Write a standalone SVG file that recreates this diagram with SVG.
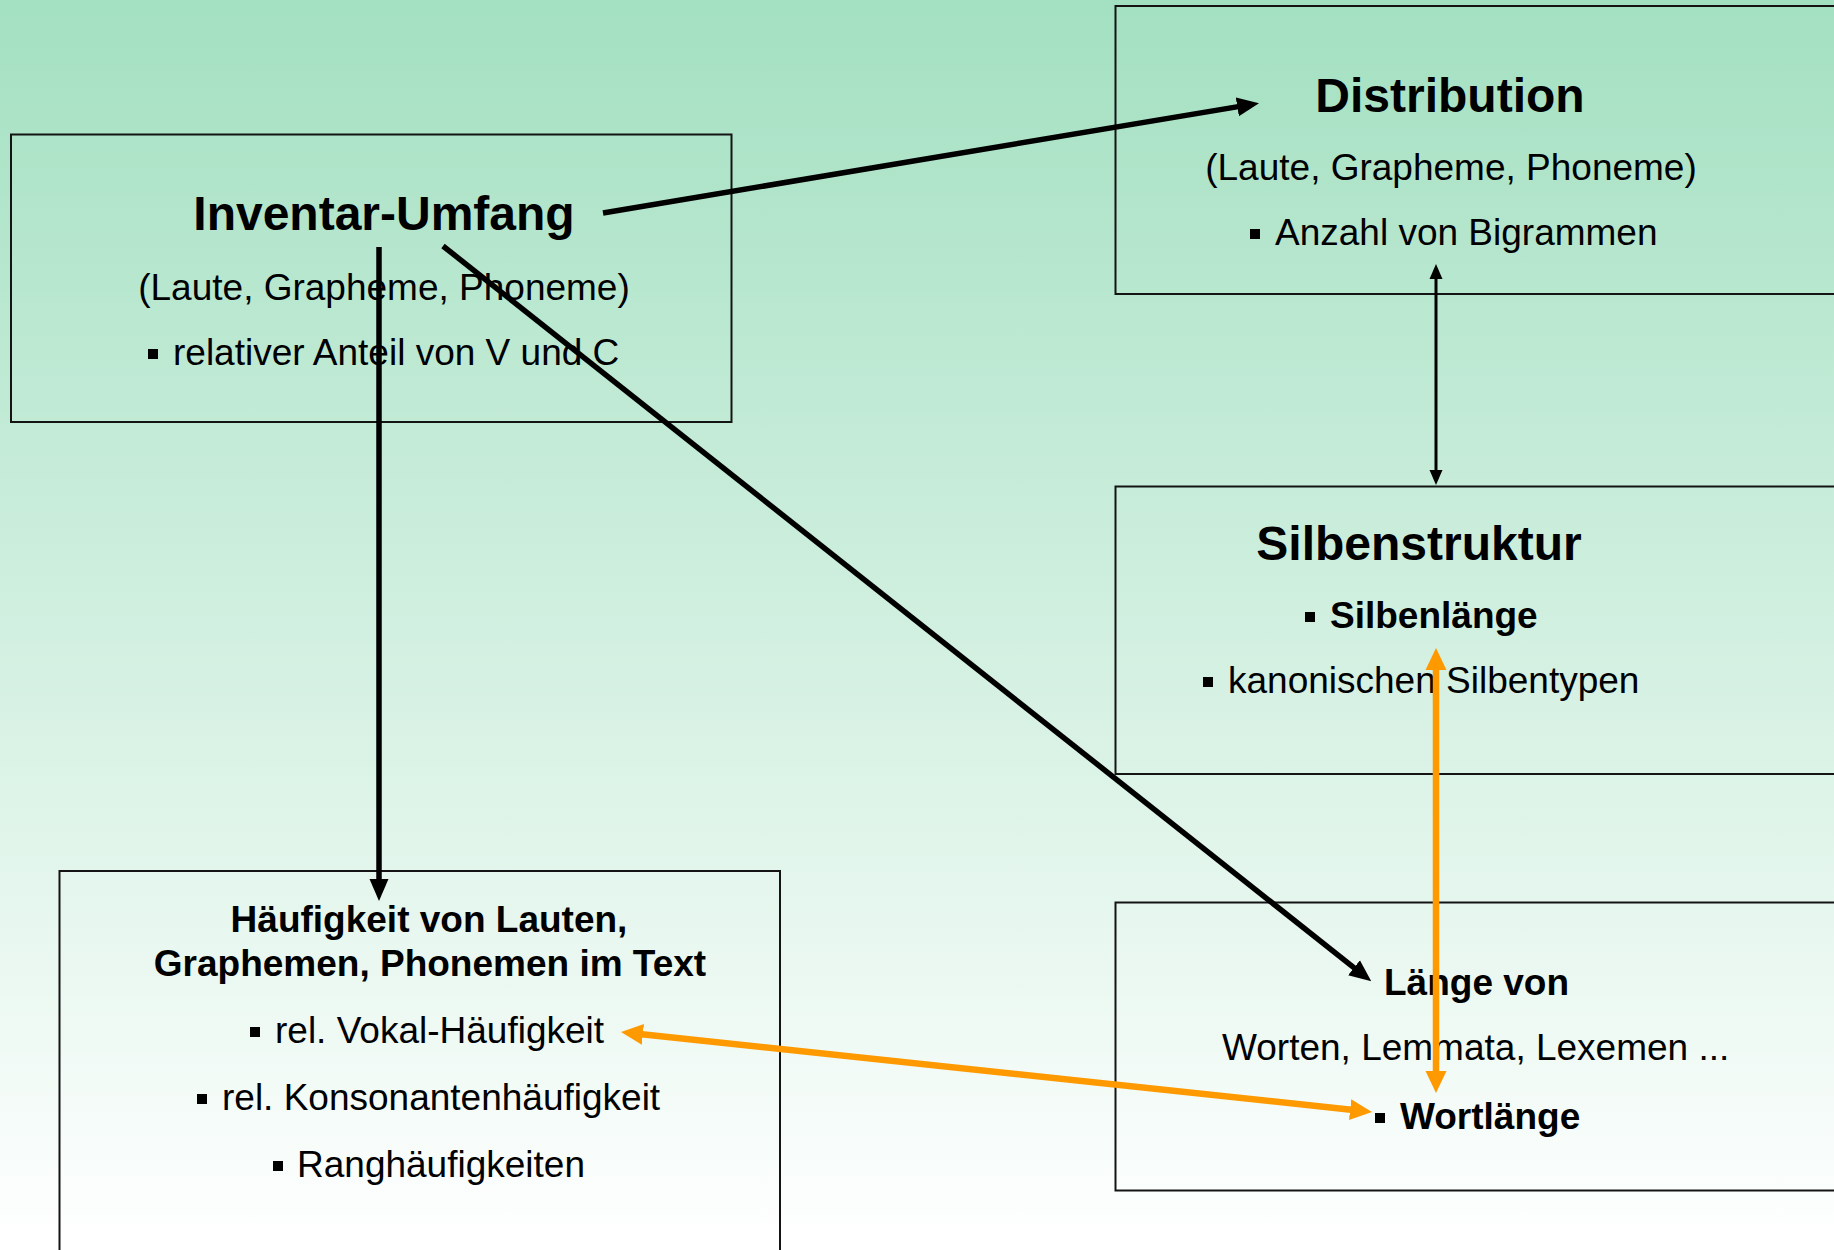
<svg xmlns="http://www.w3.org/2000/svg" width="1834" height="1250" viewBox="0 0 1834 1250">
  <defs>
    <linearGradient id="bg" x1="0" y1="0" x2="0" y2="1">
      <stop offset="0" stop-color="#a3e0c1"/>
      <stop offset="1" stop-color="#ffffff"/>
    </linearGradient>
    <marker id="ahB" markerUnits="userSpaceOnUse" viewBox="0 -10 22 20" refX="1" refY="0" markerWidth="22" markerHeight="20" orient="auto-start-reverse">
      <path d="M0,-9.5 L22,0 L0,9.5 z" fill="#000"/>
    </marker>
    <marker id="ahS" markerUnits="userSpaceOnUse" viewBox="0 -7 15 14" refX="1" refY="0" markerWidth="15" markerHeight="14" orient="auto-start-reverse">
      <path d="M0,-6.5 L15,0 L0,6.5 z" fill="#000"/>
    </marker>
    <marker id="ahO" markerUnits="userSpaceOnUse" viewBox="0 -11 22 22" refX="1" refY="0" markerWidth="22" markerHeight="22" orient="auto-start-reverse">
      <path d="M0,-10.5 L22,0 L0,10.5 z" fill="#ff9900"/>
    </marker>
  </defs>
  <style>
    .box { fill: none; stroke: #141414; stroke-width: 2; }
    text { font-family: "Liberation Sans", Arial, sans-serif; fill: #000; }
    .title { font-size: 48px; font-weight: bold; }
    .body { font-size: 37px; }
    .bold { font-size: 37px; font-weight: bold; }
    .mid { text-anchor: middle; }
    .bul { fill: #000; }
    .blk { stroke: #000; stroke-width: 5.5; fill: none; }
    .thin { stroke: #000; stroke-width: 3; fill: none; }
    .org { stroke: #ff9900; stroke-width: 6.5; fill: none; }
  </style>
  <rect x="0" y="0" width="1834" height="1250" fill="url(#bg)"/>

  <g id="node-inventar">
    <rect class="box" x="11" y="134.5" width="720.5" height="287.5"/>
    <text class="title mid" x="384" y="230">Inventar-Umfang</text>
    <text class="body mid" x="384" y="300">(Laute, Grapheme, Phoneme)</text>
    <rect class="bul" x="148" y="349" width="10" height="10"/>
    <text class="body" x="173" y="365">relativer Anteil von V und C</text>
  </g>

  <g id="node-distribution">
    <rect class="box" x="1115.5" y="6" width="720" height="288"/>
    <text class="title mid" x="1450" y="112">Distribution</text>
    <text class="body mid" x="1451" y="180">(Laute, Grapheme, Phoneme)</text>
    <rect class="bul" x="1250" y="229" width="10" height="10"/>
    <text class="body" x="1275" y="245">Anzahl von Bigrammen</text>
  </g>

  <g id="node-silbenstruktur">
    <rect class="box" x="1115.5" y="486.5" width="720" height="287.5"/>
    <text class="title mid" x="1419" y="560">Silbenstruktur</text>
    <rect class="bul" x="1305" y="612" width="10" height="10"/>
    <text class="bold" x="1330" y="628">Silbenlänge</text>
    <rect class="bul" x="1203" y="677" width="10" height="10"/>
    <text class="body" x="1228" y="693">kanonischen Silbentypen</text>
  </g>

  <g id="node-laenge">
    <rect class="box" x="1115.5" y="902.5" width="720" height="288"/>
    <text class="bold" x="1384" y="995">Länge von</text>
    <text class="body" x="1222" y="1060">Worten, Lemmata, Lexemen ...</text>
    <rect class="bul" x="1375" y="1113" width="10" height="10"/>
    <text class="bold" x="1400" y="1129">Wortlänge</text>
  </g>

  <g id="node-haeufigkeit">
    <rect class="box" x="59.5" y="871" width="720.5" height="420"/>
    <text class="bold mid" x="429" y="932">Häufigkeit von Lauten,</text>
    <text class="bold mid" x="430" y="976">Graphemen, Phonemen im Text</text>
    <rect class="bul" x="250" y="1027" width="10" height="10"/>
    <text class="body" x="275" y="1043">rel. Vokal-Häufigkeit</text>
    <rect class="bul" x="197" y="1094" width="10" height="10"/>
    <text class="body" x="222" y="1110">rel. Konsonantenhäufigkeit</text>
    <rect class="bul" x="273" y="1161" width="10" height="10"/>
    <text class="body" x="297" y="1177">Ranghäufigkeiten</text>
  </g>

  <g id="connectors">
    <line class="blk" x1="603" y1="213" x2="1238.3" y2="106.6" marker-end="url(#ahB)"/>
    <line class="blk" x1="379" y1="247" x2="379" y2="880" marker-end="url(#ahB)"/>
    <line class="blk" x1="443" y1="246" x2="1354.8" y2="968.3" marker-end="url(#ahB)"/>
    <line class="thin" x1="1436" y1="278" x2="1436" y2="471" marker-start="url(#ahS)" marker-end="url(#ahS)"/>
    <line class="org" x1="1436" y1="669" x2="1436" y2="1072" marker-start="url(#ahO)" marker-end="url(#ahO)"/>
    <line class="org" x1="641.9" y1="1034.3" x2="1351.1" y2="1109.7" marker-start="url(#ahO)" marker-end="url(#ahO)"/>
  </g>
</svg>
